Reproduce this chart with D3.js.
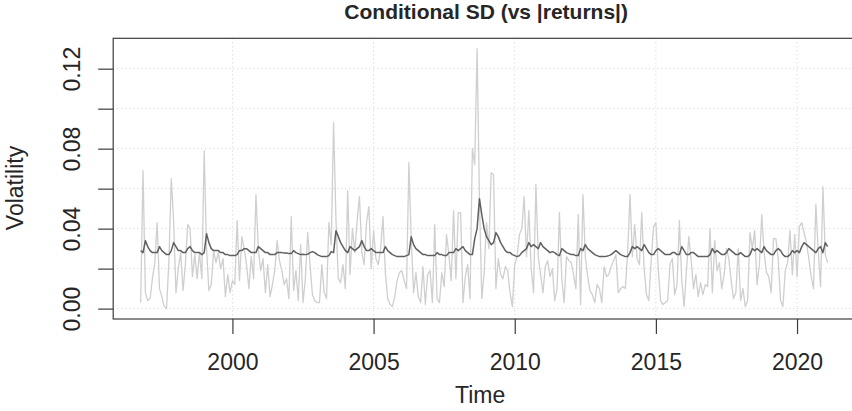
<!DOCTYPE html>
<html>
<head>
<meta charset="utf-8">
<script src="https://cdn.jsdelivr.net/npm/d3@7/dist/d3.min.js"></script>
<style>
  html, body { margin: 0; padding: 0; background: #fff; }
  svg text { font-family: "Liberation Sans", Arial, sans-serif; fill: #262626; }
</style>
</head>
<body>
<div id="chart"></div>
<script>
// monthly series, first obs Oct 1996
const startYear = 1996;
const startMonth = 10;

// |returns|
const absReturns = [
  0.003, 0.069, 0.008,
  0.004, 0.005, 0.015, 0.023, 0.043, 0.010, 0.006, 0.001, 0.000, 0.024, 0.065, 0.044, // 1997
  0.008, 0.020, 0.028, 0.009, 0.022, 0.042, 0.040, 0.016, 0.027, 0.015, 0.028, 0.015, // 1998
  0.079, 0.030, 0.009, 0.012, 0.029, 0.023, 0.028, 0.020, 0.025, 0.006, 0.017, 0.008, // 1999
  0.014, 0.012, 0.044, 0.014, 0.036, 0.030, 0.022, 0.010, 0.026, 0.015, 0.057, 0.030, // 2000
  0.019, 0.025, 0.008, 0.022, 0.006, 0.012, 0.019, 0.034, 0.024, 0.019, 0.012, 0.015, // 2001
  0.005, 0.046, 0.009, 0.019, 0.004, 0.032, 0.003, 0.015, 0.038, 0.022, 0.007, 0.004, // 2002
  0.003, 0.003, 0.022, 0.008, 0.005, 0.043, 0.032, 0.093, 0.045, 0.015, 0.013, 0.022, // 2003
  0.010, 0.059, 0.017, 0.040, 0.028, 0.044, 0.056, 0.028, 0.022, 0.043, 0.051, 0.020, // 2004
  0.039, 0.025, 0.022, 0.030, 0.046, 0.018, 0.005, 0.002, 0.001, 0.006, 0.014, 0.018, // 2005
  0.019, 0.014, 0.010, 0.073, 0.035, 0.008, 0.018, 0.006, 0.003, 0.021, 0.002, 0.017, // 2006
  0.019, 0.003, 0.042, 0.005, 0.003, 0.018, 0.011, 0.037, 0.027, 0.014, 0.049, 0.015, // 2007
  0.048, 0.048, 0.003, 0.016, 0.022, 0.005, 0.080, 0.072, 0.130, 0.055, 0.005, 0.018, // 2008
  0.043, 0.030, 0.068, 0.067, 0.010, 0.025, 0.017, 0.015, 0.021, 0.019, 0.008, 0.001, // 2009
  0.022, 0.026, 0.037, 0.040, 0.056, 0.026, 0.049, 0.020, 0.008, 0.062, 0.026, 0.017, // 2010
  0.008, 0.021, 0.024, 0.016, 0.020, 0.004, 0.010, 0.048, 0.015, 0.003, 0.026, 0.024, // 2011
  0.023, 0.017, 0.010, 0.047, 0.002, 0.057, 0.026, 0.016, 0.009, 0.007, 0.003, 0.012, // 2012
  0.010, 0.003, 0.021, 0.016, 0.017, 0.021, 0.024, 0.027, 0.008, 0.010, 0.011, 0.010, // 2013
  0.028, 0.057, 0.026, 0.042, 0.025, 0.022, 0.048, 0.020, 0.007, 0.004, 0.024, 0.041, // 2014
  0.043, 0.020, 0.004, 0.002, 0.003, 0.004, 0.022, 0.025, 0.007, 0.012, 0.044, 0.014, // 2015
  0.001, 0.019, 0.036, 0.024, 0.010, 0.017, 0.006, 0.013, 0.007, 0.012, 0.011, 0.040, // 2016
  0.008, 0.034, 0.019, 0.023, 0.010, 0.017, 0.030, 0.025, 0.014, 0.005, 0.008, 0.030, // 2017
  0.004, 0.010, 0.001, 0.004, 0.038, 0.030, 0.039, 0.012, 0.022, 0.047, 0.028, 0.018, // 2018
  0.016, 0.008, 0.035, 0.035, 0.025, 0.004, 0.001, 0.019, 0.023, 0.039, 0.017, 0.037, // 2019
  0.016, 0.041, 0.043, 0.038, 0.033, 0.025, 0.016, 0.010, 0.052, 0.029, 0.011, 0.061, // 2020
  0.027, 0.023
];

// conditional sd
const condSD = [
  0.029, 0.028, 0.034,
  0.031, 0.029, 0.028, 0.028, 0.028, 0.031, 0.029, 0.028, 0.027, 0.027, 0.029, 0.033, // 1997
  0.031, 0.029, 0.029, 0.028, 0.028, 0.030, 0.031, 0.029, 0.028, 0.028, 0.028, 0.027, // 1998
  0.028, 0.0375, 0.033, 0.030, 0.029, 0.029, 0.029, 0.028, 0.028, 0.027, 0.027, 0.0265, // 1999
  0.0265, 0.0265, 0.027, 0.029, 0.029, 0.030, 0.030, 0.029, 0.028, 0.028, 0.028, 0.031, // 2000
  0.030, 0.029, 0.028, 0.028, 0.027, 0.027, 0.027, 0.028, 0.028, 0.028, 0.0278, 0.0278, // 2001
  0.0275, 0.0275, 0.029, 0.028, 0.0275, 0.027, 0.0272, 0.027, 0.0272, 0.028, 0.0285, 0.028, // 2002
  0.027, 0.0265, 0.026, 0.026, 0.026, 0.0265, 0.0285, 0.028, 0.039, 0.036, 0.033, 0.031, // 2003
  0.029, 0.028, 0.031, 0.030, 0.029, 0.030, 0.031, 0.034, 0.031, 0.029, 0.029, 0.030, // 2004
  0.029, 0.028, 0.028, 0.028, 0.028, 0.031, 0.029, 0.028, 0.027, 0.0265, 0.026, 0.026, // 2005
  0.026, 0.026, 0.0265, 0.027, 0.036, 0.032, 0.030, 0.029, 0.028, 0.027, 0.027, 0.0265, // 2006
  0.0265, 0.0265, 0.0265, 0.028, 0.027, 0.027, 0.0265, 0.0265, 0.028, 0.028, 0.028, 0.030, // 2007
  0.029, 0.030, 0.031, 0.029, 0.028, 0.027, 0.027, 0.035, 0.040, 0.055, 0.047, 0.040, // 2008
  0.036, 0.034, 0.032, 0.033, 0.038, 0.036, 0.033, 0.031, 0.029, 0.028, 0.028, 0.027, // 2009
  0.0265, 0.026, 0.0265, 0.028, 0.029, 0.030, 0.033, 0.031, 0.032, 0.031, 0.030, 0.033, // 2010
  0.031, 0.030, 0.029, 0.028, 0.0285, 0.028, 0.027, 0.0265, 0.030, 0.029, 0.028, 0.0275, // 2011
  0.027, 0.027, 0.0265, 0.0265, 0.030, 0.029, 0.032, 0.030, 0.029, 0.028, 0.027, 0.0265, // 2012
  0.026, 0.026, 0.026, 0.0262, 0.0265, 0.027, 0.028, 0.029, 0.028, 0.027, 0.0265, 0.026, // 2013
  0.026, 0.028, 0.031, 0.030, 0.031, 0.030, 0.029, 0.032, 0.030, 0.028, 0.027, 0.027, // 2014
  0.029, 0.030, 0.029, 0.028, 0.027, 0.027, 0.027, 0.028, 0.028, 0.027, 0.027, 0.031, // 2015
  0.029, 0.027, 0.027, 0.028, 0.028, 0.027, 0.026, 0.026, 0.026, 0.026, 0.026, 0.027, // 2016
  0.030, 0.028, 0.029, 0.028, 0.027, 0.027, 0.028, 0.030, 0.029, 0.028, 0.027, 0.027, // 2017
  0.028, 0.027, 0.026, 0.026, 0.027, 0.030, 0.029, 0.030, 0.029, 0.028, 0.031, 0.029, // 2018
  0.028, 0.027, 0.027, 0.029, 0.030, 0.029, 0.027, 0.026, 0.026, 0.027, 0.029, 0.028, // 2019
  0.029, 0.028, 0.031, 0.033, 0.032, 0.031, 0.030, 0.029, 0.028, 0.030, 0.031, 0.028, // 2020
  0.033, 0.031
];

const xTicks = [2000, 2005, 2010, 2015, 2020];
const yTicks = [0, 0.02, 0.04, 0.06, 0.08, 0.10, 0.12];
const yTickLabels = ["0.00", "", "0.04", "", "0.08", "", "0.12"];

const width = 852;
const height = 411;
const plot = { left: 113.2, right: 855.1, top: 38.3, bottom: 319 };

const t0 = startYear + (startMonth - 1) / 12;
const timeOf = i => t0 + i / 12;

// R style: data range padded by 4% each side
function padded(ext) {
    const p = (ext[1] - ext[0]) * 0.04;
    return [ext[0] - p, ext[1] + p];
}

const x = d3.scaleLinear()
    .domain(padded([timeOf(0), timeOf(absReturns.length - 1)]))
    .range([plot.left, plot.right]);

const y = d3.scaleLinear()
    .domain(padded([
        d3.min([d3.min(absReturns), d3.min(condSD)]),
        d3.max([d3.max(absReturns), d3.max(condSD)])
    ]))
    .range([plot.bottom, plot.top]);

const svg = d3.select('#chart')
    .append('svg')
    .attr('width', width)
    .attr('height', height);

// grid
svg.append('g')
    .selectAll('line')
    .data(yTicks)
    .join('line')
    .attr('x1', plot.left)
    .attr('x2', plot.right)
    .attr('y1', d => y(d))
    .attr('y2', d => y(d))
    .attr('stroke', '#cfcfcf')
    .attr('stroke-width', 1)
    .attr('stroke-dasharray', '1,3');

svg.append('g')
    .selectAll('line')
    .data(xTicks)
    .join('line')
    .attr('x1', d => x(d))
    .attr('x2', d => x(d))
    .attr('y1', plot.top)
    .attr('y2', plot.bottom)
    .attr('stroke', '#cfcfcf')
    .attr('stroke-width', 1)
    .attr('stroke-dasharray', '1,3');

const line = d3.line()
    .x((d, i) => x(timeOf(i)))
    .y(d => y(d));

svg.append('path')
    .datum(absReturns)
    .attr('fill', 'none')
    .attr('stroke', '#cfcfcf')
    .attr('stroke-width', 1.3)
    .attr('stroke-linejoin', 'round')
    .attr('d', line);

svg.append('path')
    .datum(condSD)
    .attr('fill', 'none')
    .attr('stroke', '#606060')
    .attr('stroke-width', 1.5)
    .attr('stroke-linejoin', 'round')
    .attr('d', line);

// box
svg.append('rect')
    .attr('x', plot.left)
    .attr('y', plot.top)
    .attr('width', plot.right - plot.left)
    .attr('height', plot.bottom - plot.top)
    .attr('fill', 'none')
    .attr('stroke', '#3c3c3c')
    .attr('stroke-width', 1.2);

// axes
const xAxis = svg.append('g')
    .attr('transform', `translate(0,${plot.bottom})`)
    .call(d3.axisBottom(x).tickValues(xTicks).tickFormat(d3.format('d')).tickSize(15).tickPadding(20));

const yAxis = svg.append('g')
    .attr('transform', `translate(${plot.left},0)`)
    .call(d3.axisLeft(y).tickValues(yTicks).tickFormat('').tickSize(15));

[xAxis, yAxis].forEach(g => {
    g.select('.domain').remove();
    g.selectAll('.tick line').attr('stroke', '#3c3c3c').attr('stroke-width', 1.2);
});

xAxis.selectAll('.tick text')
    .attr('font-size', 23)
    .attr('fill', '#262626');

yAxis.selectAll('.tick')
    .append('text')
    .attr('transform', 'translate(-33,0) rotate(-90)')
    .attr('text-anchor', 'middle')
    .attr('font-size', 23)
    .attr('fill', '#262626')
    .text((d, i) => yTickLabels[i]);

// titles
svg.append('text')
    .attr('x', (plot.left + plot.right) / 2 + 2)
    .attr('y', 19)
    .attr('text-anchor', 'middle')
    .attr('font-size', 21)
    .attr('font-weight', 'bold')
    .text('Conditional SD (vs |returns|)');

svg.append('text')
    .attr('x', (plot.left + plot.right) / 2 - 4)
    .attr('y', 403)
    .attr('text-anchor', 'middle')
    .attr('font-size', 23)
    .text('Time');

svg.append('text')
    .attr('transform', `translate(23,188) rotate(-90)`)
    .attr('text-anchor', 'middle')
    .attr('font-size', 23)
    .text('Volatility');
</script>
</body>
</html>
